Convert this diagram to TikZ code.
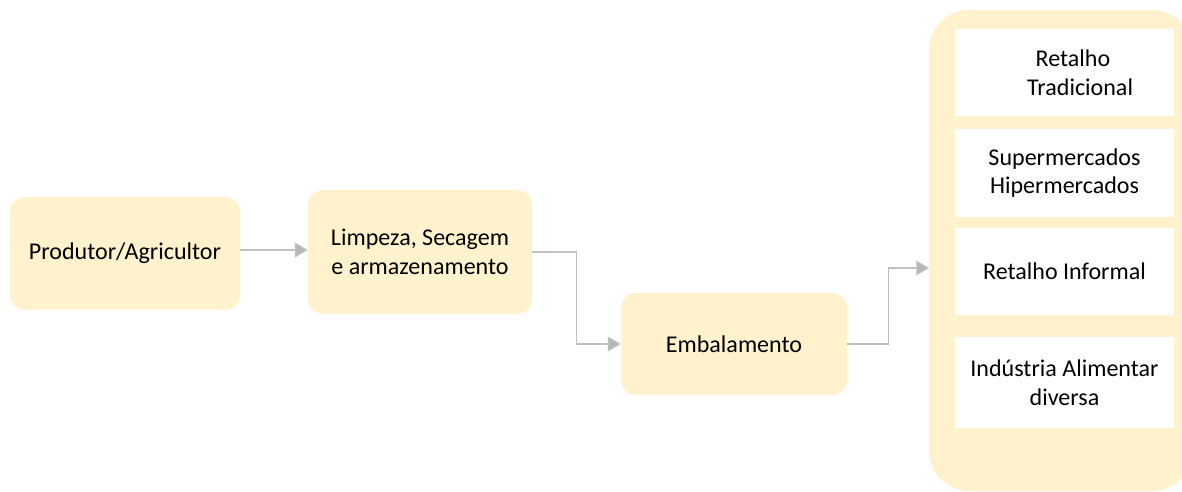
\documentclass[tikz,border=0pt]{standalone}
\usepackage{fontspec}
\setmainfont{Carlito}
\usetikzlibrary{arrows.meta}

\definecolor{boxfill}{HTML}{FFF2CC}
\definecolor{linkgray}{HTML}{C0C0C0}
\def\px{0.016667cm}

\tikzset{
  stage/.style={fill=boxfill, draw=none, rounded corners=15*\px, align=center,
    font=\fontsize{11.4pt}{13.6pt}\selectfont, inner sep=0pt},
  outlet/.style={fill=white, draw=none, align=center,
    font=\fontsize{11.4pt}{13.6pt}\selectfont, inner sep=0pt,
    minimum width=219*\px},
  link/.style={draw=linkgray, line width=0.6pt,
    -{Triangle[length=6pt,width=7pt,fill=linkgray!95!black]}}
}

\begin{document}
\begin{tikzpicture}[x=\px, y=-\px]
  \useasboundingbox (0,0) rectangle (1182,491);

  % Stages of the chain
  \node[stage, minimum width=230*\px, minimum height=113*\px] (prod) at (125,253.5) {Produtor/Agricultor};
  \node[stage, minimum width=224*\px, minimum height=124*\px] (limp) at (420,252) {Limpeza, Secagem\\e armazenamento};
  \node[stage, minimum width=226*\px, minimum height=102*\px] (emb) at (734,344) {Embalamento};

  % Container of the outlets (runs past the right edge)
  \node[fill=boxfill, rounded corners=40*\px, minimum width=263*\px, minimum height=481*\px, inner sep=0pt] (canal) at (1060.5,250.5) {};
  \coordinate (canalin) at (929,268);

  % Outlets
  \node[outlet, minimum height=87*\px] (tradicional) at (1064.5,72.5) {\hspace*{0.7em}Retalho\\\hspace*{1.3em}Tradicional};
  \node[outlet, minimum height=88*\px] (super) at (1064.5,173) {Supermercados\\Hipermercados};
  \node[outlet, minimum height=87*\px] (informal) at (1064.5,271.5) {Retalho Informal};
  \node[outlet, minimum height=91*\px] (industria) at (1064.5,382.5) {Indústria Alimentar\\diversa};

  % Connectors
  \draw[link] (prod.east |- 0,250) -- (limp.west |- 0,250);
  \draw[link] (limp.east) -- ++(44,0) |- (emb.west);
  \draw[link] (emb.east) -- ++(41,0) |- (canalin);
\end{tikzpicture}
\end{document}
